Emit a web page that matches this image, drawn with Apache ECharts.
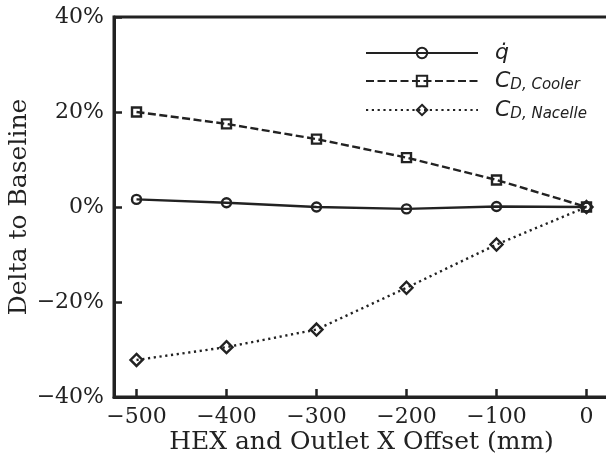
<!DOCTYPE html>
<html><head><meta charset="utf-8">
<script src="https://cdn.jsdelivr.net/npm/echarts@6/dist/echarts.min.js"></script>
<style>html,body{margin:0;padding:0;background:#fff}#c{width:606px;height:458px}</style>
</head><body><div id="c"></div>
<script>
const xOffsets = [-500, -400, -300, -200, -100, 0];
const qDot = [1.6, 0.9, 0.0, -0.4, 0.1, 0.0];
const cdCooler = [20.0, 17.5, 14.3, 10.4, 5.7, 0.0];
const cdNacelle = [-32.2, -29.5, -25.8, -17.0, -7.9, 0.0];
const xTicks = [-500, -400, -300, -200, -100, 0];
const yTicks = [-40, -20, 0, 20, 40];

const ink = '#222222';
const serif = 'DejaVu Serif';
const minus = s => String(s).replace('-', '\u2212');

function pts(vals){ return xOffsets.map((x,i)=>[x, vals[i]]); }

const chart = echarts.init(document.getElementById('c'), null, {renderer:'canvas'});
const mk = (name, vals, symbol, size, lineType) => ({
  name, type:'line', data: pts(vals), symbol, symbolSize:size,
  showSymbol:true, animation:false,
  lineStyle:{color:ink, width:2.4, type:lineType},
  itemStyle:{color:'rgba(0,0,0,0)', borderColor:ink, borderWidth:2.4},
  z: 3
});
chart.setOption({
  animation:false,
  grid:{left:114, top:17, width:495, height:380, outerBoundsMode:'none', containLabel:false,
        show:true, borderColor:ink, borderWidth:3, backgroundColor:'rgba(0,0,0,0)'},
  legend:{
    left: 365, top: 42, padding:0, orient:'vertical', itemWidth:112, itemHeight:13, itemGap:6,
    textStyle:{fontFamily:'DejaVu Sans', fontSize:21, color:ink, fontStyle:'italic', padding:[0,0,0,12],
      rich:{
        m:{fontFamily:'DejaVu Sans', fontSize:22, fontStyle:'italic', color:ink},
        s:{fontFamily:'DejaVu Sans', fontSize:15, fontStyle:'italic', color:ink, verticalAlign:'bottom', padding:[9,0,0,0]}
      }},
    formatter: n => n==='qdot' ? '{m|q\u0307}' : n==='cooler' ? '{m|C}{s|D, Cooler}' : '{m|C}{s|D, Nacelle}',
    data:['qdot','cooler','nacelle']
  },
  xAxis:{
    type:'value', min:-525, max:25,
    name:'HEX and Outlet X Offset (mm)', nameLocation:'middle', nameGap:33, nameMoveOverlap:false,
    nameTextStyle:{fontFamily:serif, fontSize:25, color:ink},
    axisLine:{show:true, onZero:false, lineStyle:{color:ink, width:3}},
    axisTick:{show:true, inside:true, length:8, lineStyle:{color:ink, width:2.5}, customValues:xTicks},
    axisLabel:{fontFamily:serif, fontSize:22, color:ink, margin:9, customValues:xTicks, formatter:v=>minus(v)},
    splitLine:{show:false}
  },
  yAxis:{
    type:'value', min:-40, max:40, interval:20,
    name:'Delta to Baseline', nameLocation:'middle', nameGap:82, nameMoveOverlap:false, nameRotate:90,
    nameTextStyle:{fontFamily:serif, fontSize:25, color:ink},
    axisLine:{show:true, onZero:false, lineStyle:{color:ink, width:3}},
    axisTick:{show:true, inside:true, length:8, lineStyle:{color:ink, width:2.5}},
    axisLabel:{fontFamily:serif, fontSize:22, color:ink, margin:10, formatter:v=>minus(v)+'%'},
    splitLine:{show:false}
  },
  series:[
    mk('qdot', qDot, 'circle', 9, 'solid'),
    mk('cooler', cdCooler, 'rect', 9, [8,3.5]),
    mk('nacelle', cdNacelle, 'diamond', 12, [2.2,3.6])
  ]
});
</script></body></html>
